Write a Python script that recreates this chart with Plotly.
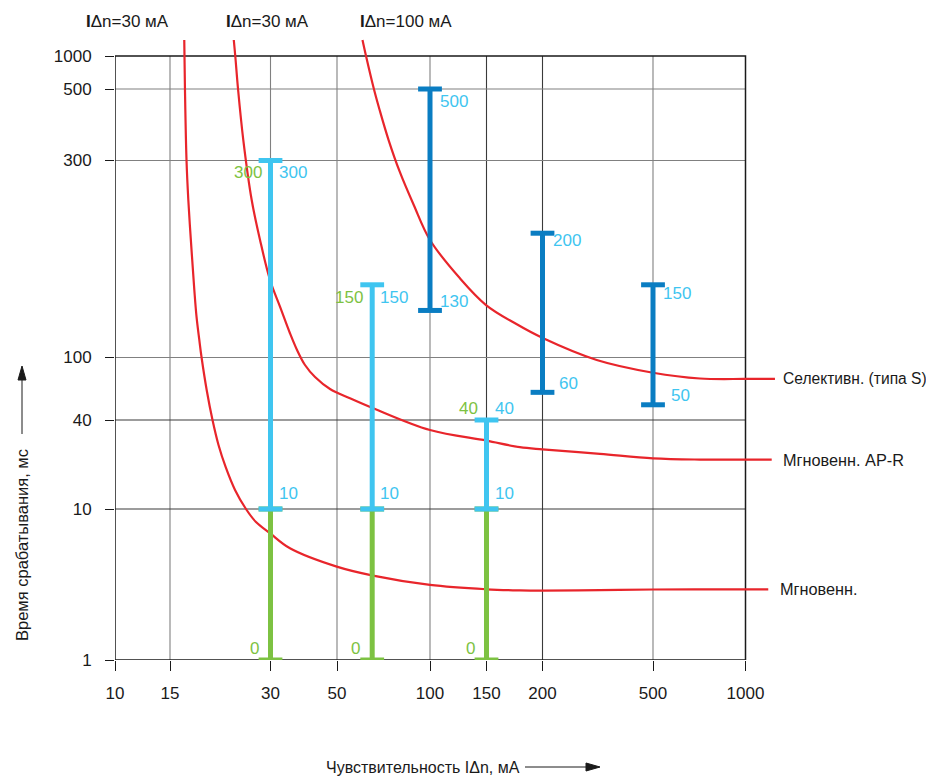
import numpy as np
import plotly.graph_objects as go

# ---------------- data ----------------
X_TICKS = [10, 15, 30, 50, 100, 150, 200, 500, 1000]
X_TICK_LABELS = ["10", "15", "30", "50", "100", "150", "200", "500", "1000"]
Y_TICKS = [1, 10, 40, 100, 300, 500, 1000]
Y_TICK_LABELS = ["1", "10", "40", "100", "300", "500", "1000"]

# red tripping curves (current mA, time ms)
CURVE_INST_X = [16.55, 16.63, 16.81, 17.02, 17.40, 17.74, 18.01, 18.36, 18.65, 19.33, 20.11, 20.96, 22.0,
                23.49, 25.33, 27.14, 29.9, 34.84, 49.9, 65.4, 100, 150, 178, 200, 322, 500, 1000, 1186]
CURVE_INST_Y = [1400, 500, 300, 240.7, 182.2, 145.7, 125.6, 110.3, 100, 61.7, 40, 27.1, 19.33,
                13.45, 10, 8.2, 6.91, 5.49, 4.15, 3.62, 3.14, 2.94, 2.89, 2.88, 2.9, 2.93, 2.94, 2.94]

CURVE_APR_X = [23.29, 23.53, 23.98, 24.87, 26.35, 27.91, 29.9, 32.27, 34.84, 36.78, 39.1, 42.24,
               47.39, 55.08, 65.5, 100, 150, 178, 200, 322, 500, 711, 1000, 1217]
CURVE_APR_Y = [1400, 1000, 500, 347.2, 240.7, 192.6, 154.1, 132.8, 114.5, 104.3, 89.6, 75.1,
               63.0, 55.0, 47.5, 34.2, 29.0, 26.2, 25.3, 23.6, 22.0, 21.6, 21.6, 21.6]

CURVE_SEL_X = [60.46, 62.08, 65.83, 68.7, 73.45, 79.8, 88.6, 100, 124, 149.5, 173.7, 201.3, 313.5,
               500, 711, 1000, 1247]
CURVE_SEL_Y = [1400, 1000, 500, 430.4, 347.2, 281.8, 234.1, 192.6, 155.5, 134, 121, 111.3, 96.4,
               80, 73.5, 73, 73]

CURVE_NAMES = ["Мгновенн.", "Мгновенн. AP-R", "Селективн. (типа S)"]
CURVE_TOP_LABELS = ["I\u0394n=30 мА", "I\u0394n=30 мА", "I\u0394n=100 мА"]

# time bands
BAND_X = [30, 65, 150]
GREEN_LOW = [0, 0, 0]
GREEN_HIGH = [10, 10, 10]
LBLUE_LOW = [10, 10, 10]
LBLUE_HIGH = [300, 150, 40]

DBLUE_X = [100, 200, 500]
DBLUE_LOW = [130, 60, 50]
DBLUE_HIGH = [500, 200, 150]

# ---------------- scale of the drawing (uneven axes) ----------------
X_SCALE_PX = [0, 55, 155.5, 222, 315, 371.5, 427.5, 538, 630.5]
Y_SCALE_PX = [0, 151, 240, 302.5, 499.5, 571, 604]


def warp(v, ticks, px):
    v = np.maximum(np.asarray(v, dtype=float), ticks[0])
    lv = np.log10(v)
    lt = np.log10(np.asarray(ticks, dtype=float))
    out = np.interp(lv, lt, px)
    slope = (px[-1] - px[-2]) / (lt[-1] - lt[-2])
    return np.where(lv > lt[-1], px[-1] + (lv - lt[-1]) * slope, out)


def fx(v):
    return warp(v, X_TICKS, X_SCALE_PX)


def fy(v):
    return warp(v, Y_TICKS, Y_SCALE_PX)


# ---------------- styles ----------------
RED = "#E8252B"
GREEN = "#7DC242"
LBLUE = "#3FC5F0"
DBLUE = "#0A7DC2"
INK = "#1a1a1a"
NUM_FONT = "Liberation Sans, Arial, sans-serif"

PAGE_OFF = 8  # default body margin of the html page
W, H = 934 - PAGE_OFF, 776 - PAGE_OFF
L, T = 115 - PAGE_OFF, 38 - PAGE_OFF
R, B = 934 - 780, 776 - 660
PW, PH = W - L - R, H - T - B


def paper(px, py):
    return (px - 115) / PW, (660 - py) / PH


fig = go.Figure()

# grid
dark_x = {150, 200}
dark_y = {10, 40}
for v in X_TICKS[1:-1]:
    fig.add_shape(type="line", xref="x", yref="y", x0=float(fx(v)), x1=float(fx(v)),
                  y0=float(fy(1)), y1=float(fy(1000)), layer="below",
                  line=dict(color="#3a3a3a" if v in dark_x else "#808080", width=1.1))
for v in Y_TICKS[1:-1]:
    fig.add_shape(type="line", xref="x", yref="y", x0=float(fx(10)), x1=float(fx(1000)),
                  y0=float(fy(v)), y1=float(fy(v)), layer="below",
                  line=dict(color="#3a3a3a" if v in dark_y else "#808080", width=1.1))
fig.add_shape(type="rect", xref="x", yref="y", x0=float(fx(10)), x1=float(fx(1000)),
              y0=float(fy(1)), y1=float(fy(1000)), layer="below",
              line=dict(color=INK, width=1.5))

# curves
curves = [(CURVE_INST_X, CURVE_INST_Y), (CURVE_APR_X, CURVE_APR_Y), (CURVE_SEL_X, CURVE_SEL_Y)]
for (cx, cy), name in zip(curves, CURVE_NAMES):
    fig.add_trace(go.Scatter(x=fx(cx), y=fy(cy), mode="lines", name=name,
                             line=dict(color=RED, width=2.2, shape="spline", smoothing=1.0),
                             hoverinfo="skip"))


def band_trace(xs, lows, highs, color):
    bx, by = [], []
    for x, lo, hi in zip(xs, lows, highs):
        bx += [float(fx(x)), float(fx(x)), None]
        by += [float(fy(lo)), float(fy(hi)), None]
    return go.Scatter(x=bx, y=by, mode="lines+markers", hoverinfo="skip",
                      line=dict(color=color, width=5),
                      marker=dict(symbol="line-ew", size=17, color=color,
                                  line=dict(color=color, width=5)))


fig.add_trace(band_trace(BAND_X, GREEN_LOW, GREEN_HIGH, GREEN))
fig.add_trace(band_trace(BAND_X, LBLUE_LOW, LBLUE_HIGH, LBLUE))
fig.add_trace(band_trace(DBLUE_X, DBLUE_LOW, DBLUE_HIGH, DBLUE))

ann = []


def label(xv, yv, text, color, anchor, dx, dy, size=17, family=NUM_FONT):
    ann.append(dict(x=float(fx(xv)), y=float(fy(yv)), xref="x", yref="y", text=text,
                    showarrow=False, xanchor=anchor, yanchor="middle", xshift=dx, yshift=dy,
                    font=dict(family=family, size=size, color=color)))


TOP_DY = [-12, -13, 12]
for x, hi, dy in zip(BAND_X, LBLUE_HIGH, TOP_DY):
    label(x, hi, str(hi), GREEN, "right", -7, dy)
    label(x, hi, str(hi), LBLUE, "left", 6, dy)
for x, lo in zip(BAND_X, LBLUE_LOW):
    label(x, lo, str(lo), LBLUE, "left", 6, 16)
for x, lo in zip(BAND_X, GREEN_LOW):
    label(x, lo, str(lo), GREEN, "right", -10, 12)

DB_TOP_DY = [-12, -7, -9]
DB_LOW_DX = [8, 14, 16]
for x, hi, lo, dy, dx in zip(DBLUE_X, DBLUE_HIGH, DBLUE_LOW, DB_TOP_DY, DB_LOW_DX):
    label(x, hi, str(hi), LBLUE, "left", 8, dy)
    label(x, lo, str(lo), LBLUE, "left", dx, 9)

# curve names at right ends
END_DX = [10, 9, 6]
END_SIZE = [16.3, 16.3, 15.6]
for (cx, cy), name, dx, fs in zip(curves, CURVE_NAMES, END_DX, END_SIZE):
    label(cx[-1], cy[-1], name, INK, "left", dx, 0, size=fs)

# labels at curve tops
TOP_ANCH = [("right", -13), ("left", -10), ("left", -4)]
for (cx, cy), txt, (anc, dx) in zip(curves, CURVE_TOP_LABELS, TOP_ANCH):
    t = "<b>I</b>" + txt[1:]
    label(cx[0], cy[0], t, INK, anc, dx, 18)

# axis titles
px_, py_ = paper(423, 767)
ann.append(dict(x=px_, y=py_, xref="paper", yref="paper", text="Чувствительность I\u0394n, мА",
                showarrow=False, xanchor="center", yanchor="middle",
                font=dict(family=NUM_FONT, size=16, color=INK)))
px_, py_ = paper(22, 545)
ann.append(dict(x=px_, y=py_, xref="paper", yref="paper", text="Время срабатывания, мс",
                showarrow=False, xanchor="center", yanchor="middle", textangle=-90,
                font=dict(family=NUM_FONT, size=16.5, color=INK)))


def pline(p0, p1):
    a = paper(*p0)
    b = paper(*p1)
    fig.add_shape(type="line", xref="paper", yref="paper", x0=a[0], y0=a[1], x1=b[0], y1=b[1],
                  line=dict(color=INK, width=1))


def ptri(pts):
    pp = [paper(*p) for p in pts]
    path = "M {} {} L {} {} L {} {} Z".format(pp[0][0], pp[0][1], pp[1][0], pp[1][1], pp[2][0], pp[2][1])
    fig.add_shape(type="path", xref="paper", yref="paper", path=path,
                  fillcolor=INK, line=dict(color=INK, width=1))


pline((525, 767), (590, 767))
ptri([(586, 763), (600, 767), (586, 771)])
pline((22, 434), (22, 376))
ptri([(18, 380), (22, 366), (26, 380)])

fig.update_layout(
    width=W, height=H, margin=dict(l=L, r=R, t=T, b=B, autoexpand=False),
    paper_bgcolor="white", plot_bgcolor="white", showlegend=False,
    annotations=ann,
    xaxis=dict(range=[0, PW], tickvals=[float(v) for v in fx(X_TICKS)], ticktext=X_TICK_LABELS,
               ticks="outside", ticklen=10, tickwidth=1.2, tickcolor=INK,
               showgrid=False, zeroline=False, showline=False, automargin=False,
               ticklabelstandoff=8,
               tickfont=dict(family=NUM_FONT, size=17, color=INK), fixedrange=True),
    yaxis=dict(range=[0, PH], tickvals=[float(v) for v in fy(Y_TICKS)], ticktext=Y_TICK_LABELS,
               ticks="outside", ticklen=9, tickwidth=1.2, tickcolor=INK,
               showgrid=False, zeroline=False, showline=False, automargin=False,
               ticklabelstandoff=10,
               tickfont=dict(family=NUM_FONT, size=17, color=INK), fixedrange=True),
)

fig.write_html("out.html")
